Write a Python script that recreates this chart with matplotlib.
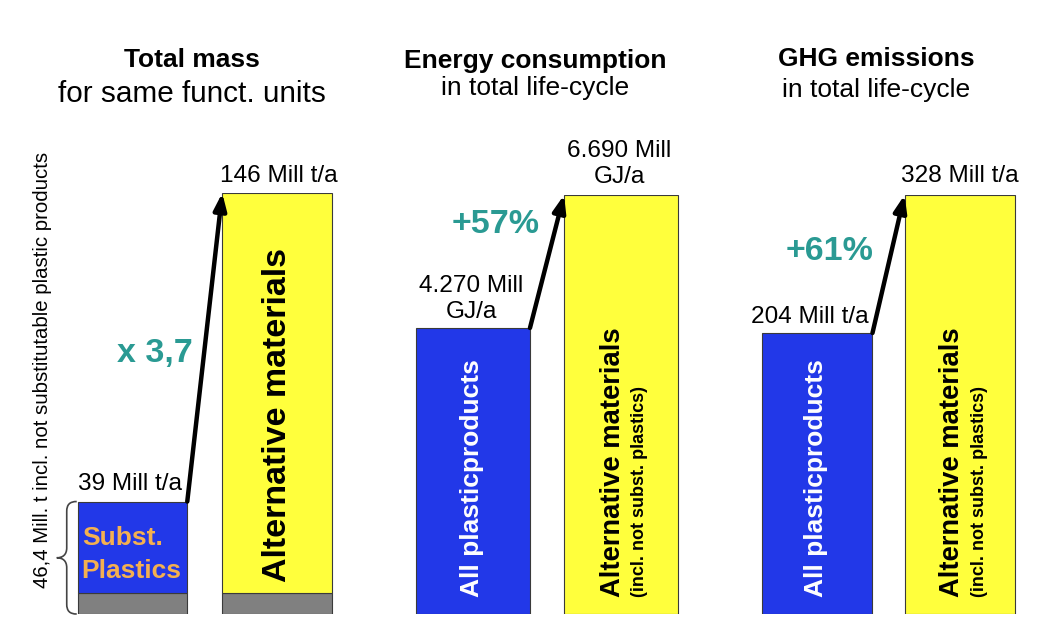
import matplotlib
matplotlib.use("Agg")
import matplotlib.pyplot as plt
from matplotlib.path import Path
from matplotlib.patches import PathPatch

plt.rcParams['font.family'] = ['Liberation Sans', 'DejaVu Sans']

# ---------------- data ----------------
titles_bold = ["Total mass", "Energy consumption", "GHG emissions"]
titles_sub = ["for same funct. units", "in total life-cycle", "in total life-cycle"]
mass_values = [39, 146]            # Mill t/a : substitutable plastics, alternative materials
energy_values = [4270, 6690]       # Mill GJ/a : all plastic products, alternative materials
ghg_values = [204, 328]            # Mill t/a : all plastic products, alternative materials
not_subst_mass = 46.4 - 39         # Mill t not substitutable plastics (grey base)
mass_labels = ["39 Mill t/a", "146 Mill t/a"]
energy_labels = [["4.270 Mill", "GJ/a"], ["6.690 Mill", "GJ/a"]]
ghg_labels = ["204 Mill t/a", "328 Mill t/a"]
change_labels = ["x 3,7", "+57%", "+61%"]
side_label = "46,4 Mill. t incl. not substitutable plastic products"

# ---------------- style ----------------
W, H = 1052, 636
BLUE = "#2238E8"
YELLOW = "#FFFF3C"
GREY = "#808080"
EDGE = "#3a3a3a"
TEAL = "#2A9A93"
ORANGE = "#F4B050"

fig = plt.figure(figsize=(W / 100, H / 100), dpi=100)

# axes extents in pixels (left, right, top, bottom)
ax_px = [(60.25, 349.25, 193, 614), (399, 695, 195, 614), (745.5, 1031.5, 195, 614)]
bar_w = [0.758, 0.77, 0.776]
floor_frac = [0.0, 0.14, 0.148]


def make_ax(i):
    l, r, t, b = ax_px[i]
    ax = fig.add_axes([l / W, (H - b) / H, (r - l) / W, (b - t) / H])
    ax.set_xlim(-0.5, 1.5)
    ax.axis("off")
    return ax


def px(x, y):
    return x / W, (H - y) / H


# titles
title_cx = [192, 535, 876.5]
title_base1 = [67, 68, 66]
title_base2 = [102, 95, 97]
title_sub_size = [21.4, 19, 19]
for i in range(3):
    fig.text(*px(title_cx[i], title_base1[i]), titles_bold[i], ha="center", va="baseline",
             fontsize=19, fontweight="bold")
    fig.text(*px(title_cx[i], title_base2[i]), titles_sub[i], ha="center", va="baseline",
             fontsize=title_sub_size[i])

arrow_kw = dict(arrowstyle="-|>,head_length=1.0,head_width=0.38", lw=3.2, color="black",
                shrinkA=0, shrinkB=0)

# ---------------- panel 1: mass ----------------
ax1 = make_ax(0)
ymax = mass_values[1]
ax1.set_ylim(0, ymax)
w = bar_w[0]
ax1.bar([0, 1], [not_subst_mass, not_subst_mass], width=w, color=GREY, edgecolor=EDGE, lw=0.8)
ax1.bar([0], [mass_values[0] - not_subst_mass], bottom=not_subst_mass, width=w,
        color=BLUE, edgecolor=EDGE, lw=0.8)
ax1.bar([1], [mass_values[1] - not_subst_mass], bottom=not_subst_mass, width=w,
        color=YELLOW, edgecolor=EDGE, lw=0.8)
ax1.annotate(mass_labels[0], xy=(0, mass_values[0]), xytext=(-3, 12), textcoords="offset pixels",
             ha="center", va="baseline", fontsize=17.6, annotation_clip=False)
ax1.annotate(mass_labels[1], xy=(1, mass_values[1]), xytext=(2, 11), textcoords="offset pixels",
             ha="center", va="baseline", fontsize=17.6, annotation_clip=False)
ax1.annotate("", xy=(1 - w / 2, mass_values[1]), xytext=(w / 2, mass_values[0]),
             arrowprops=arrow_kw, annotation_clip=False)
ax1.annotate("Subst.", xy=(-w / 2, 0), xytext=(4, 69), textcoords="offset pixels",
             ha="left", va="baseline", fontsize=19, fontweight="bold", color=ORANGE)
ax1.annotate("Plastics", xy=(-w / 2, 0), xytext=(4, 36), textcoords="offset pixels",
             ha="left", va="baseline", fontsize=19, fontweight="bold", color=ORANGE)
ax1.annotate("Alternative materials", xy=(1, 0), xytext=(0, 32), textcoords="offset pixels",
             ha="center", va="bottom", rotation=90, fontsize=24.5, fontweight="bold")

# brace left of blue bar (display pixel coordinates derived from bar data)
fig.canvas.draw()
x_edge, y_top = ax1.transData.transform((-w / 2, mass_values[0]))
_, y_bot = ax1.transData.transform((-w / 2, 0))
xr = x_edge - 1
xm = xr - 10
xt = xr - 20
ym = (y_top + y_bot) / 2
verts = [(xr, y_top), (xr - 7, y_top), (xm, y_top - 3), (xm, y_top - 10),
         (xm, ym + 10),
         (xm, ym + 3), (xm - 4, ym), (xt, ym),
         (xm - 4, ym), (xm, ym - 3), (xm, ym - 10),
         (xm, y_bot + 10),
         (xm, y_bot + 3), (xr - 7, y_bot), (xr, y_bot)]
codes = [Path.MOVETO, Path.CURVE4, Path.CURVE4, Path.CURVE4,
         Path.LINETO,
         Path.CURVE4, Path.CURVE4, Path.CURVE4,
         Path.CURVE4, Path.CURVE4, Path.CURVE4,
         Path.LINETO,
         Path.CURVE4, Path.CURVE4, Path.CURVE4]
fig.add_artist(PathPatch(Path(verts, codes), transform=None, fill=False, lw=1.2,
                         edgecolor="#444444"))

fig.text(*px(43, 588), side_label, rotation=90, ha="center", va="bottom", fontsize=14.7)
fig.text(*px(155, 362), change_labels[0], ha="center", va="baseline", fontsize=24.5,
         fontweight="bold", color=TEAL)


# ---------------- panels 2 & 3 ----------------
def comparison_panel(i, values):
    ax = make_ax(i)
    ymax = values[1]
    floor = -floor_frac[i] * ymax
    ax.set_ylim(floor, ymax)
    w = bar_w[i]
    ax.bar([0], [values[0] - floor], bottom=floor, width=w, color=BLUE, edgecolor=EDGE, lw=0.8)
    ax.bar([1], [values[1] - floor], bottom=floor, width=w, color=YELLOW, edgecolor=EDGE, lw=0.8)
    ax.annotate("", xy=(1 - w / 2, values[1]), xytext=(w / 2, values[0]),
                arrowprops=arrow_kw, annotation_clip=False)
    ax.annotate("All plasticproducts", xy=(0, floor), xytext=(-1, 17), textcoords="offset pixels",
                ha="center", va="bottom", rotation=90, fontsize=19, fontweight="bold",
                color="white")
    ax.annotate("Alternative materials", xy=(1, floor), xytext=(-8, 17), textcoords="offset pixels",
                ha="center", va="bottom", rotation=90, fontsize=19.7, fontweight="bold")
    ax.annotate("(incl. not subst. plastics)", xy=(1, floor), xytext=(19, 17),
                textcoords="offset pixels", ha="center", va="bottom", rotation=90,
                fontsize=13, fontweight="bold")
    return ax


ax2 = comparison_panel(1, energy_values)
ax2.annotate(energy_labels[0][0], xy=(0, energy_values[0]), xytext=(-2, 36), textcoords="offset pixels",
             ha="center", va="baseline", fontsize=17.6, annotation_clip=False)
ax2.annotate(energy_labels[0][1], xy=(0, energy_values[0]), xytext=(-2, 10), textcoords="offset pixels",
             ha="center", va="baseline", fontsize=17.6, annotation_clip=False)
ax2.annotate(energy_labels[1][0], xy=(1, energy_values[1]), xytext=(-2, 38), textcoords="offset pixels",
             ha="center", va="baseline", fontsize=17.6, annotation_clip=False)
ax2.annotate(energy_labels[1][1], xy=(1, energy_values[1]), xytext=(-2, 12), textcoords="offset pixels",
             ha="center", va="baseline", fontsize=17.6, annotation_clip=False)
fig.text(*px(496, 233), change_labels[1], ha="center", va="baseline", fontsize=24.5,
         fontweight="bold", color=TEAL)

ax3 = comparison_panel(2, ghg_values)
ax3.annotate(ghg_labels[0], xy=(0, ghg_values[0]), xytext=(-7, 10), textcoords="offset pixels",
             ha="center", va="baseline", fontsize=17.6, annotation_clip=False)
ax3.annotate(ghg_labels[1], xy=(1, ghg_values[1]), xytext=(0, 13), textcoords="offset pixels",
             ha="center", va="baseline", fontsize=17.6, annotation_clip=False)
fig.text(*px(830, 260), change_labels[2], ha="center", va="baseline", fontsize=24.5,
         fontweight="bold", color=TEAL)

fig.savefig("out.png", dpi=100)
